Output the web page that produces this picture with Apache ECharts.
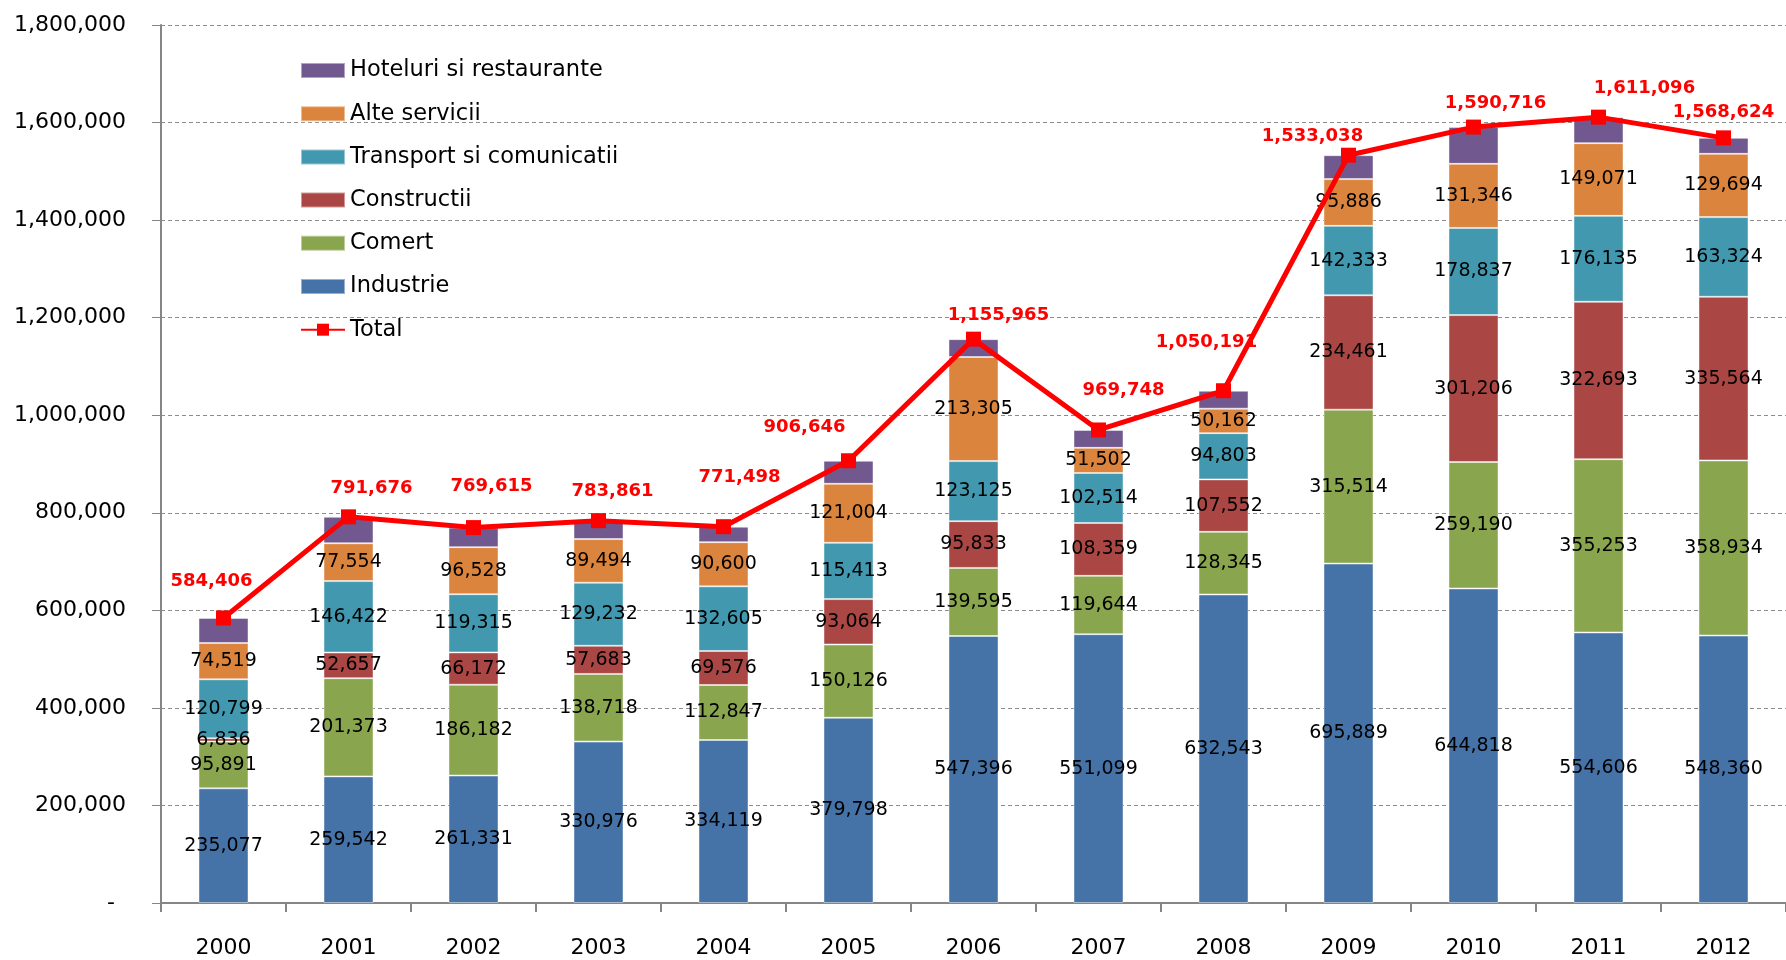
<!DOCTYPE html>
<html>
<head>
<meta charset="utf-8">
<title>Chart</title>
<script src="https://cdn.jsdelivr.net/npm/echarts@6/dist/echarts.min.js"></script>
<style>
  html, body { margin: 0; padding: 0; background: #fff; }
  #mychart { width: 1786px; height: 960px; }
</style>
</head>
<body>
<div id="mychart"></div>
<script>
  // date
  const years = ['2000', '2001', '2002', '2003', '2004', '2005', '2006', '2007', '2008', '2009', '2010', '2011', '2012']
  const industrie = [235077, 259542, 261331, 330976, 334119, 379798, 547396, 551099, 632543, 695889, 644818, 554606, 548360]
  const comert = [95891, 201373, 186182, 138718, 112847, 150126, 139595, 119644, 128345, 315514, 259190, 355253, 358934]
  const constructii = [6836, 52657, 66172, 57683, 69576, 93064, 95833, 108359, 107552, 234461, 301206, 322693, 335564]
  const transport = [120799, 146422, 119315, 129232, 132605, 115413, 123125, 102514, 94803, 142333, 178837, 176135, 163324]
  const alteServicii = [74519, 77554, 96528, 89494, 90600, 121004, 213305, 51502, 50162, 95886, 131346, 149071, 129694]
  // hoteluri: fara eticheta in grafic, estimat ca total minus celelalte
  const hoteluri = [51284, 54128, 40087, 37758, 31751, 47241, 36711, 36630, 36786, 48955, 75319, 53338, 32748]
  const total = [584406, 791676, 769615, 783861, 771498, 906646, 1155965, 969748, 1050191, 1533038, 1590716, 1611096, 1568624]
  const yTicks = [0, 200000, 400000, 600000, 800000, 1000000, 1200000, 1400000, 1600000, 1800000]

  // deplasarea etichetelor rosii fata de marker (ca in Excel)
  const totalLabelShift = [[-12, -37], [23, -29], [18, -41], [14, -29], [16, -49], [-44, -33], [25, -24],
    [25, -40], [-17, -48], [-36, -19], [22, -24], [46, -29], [0, -26]]

  const font = 'DejaVu Sans'
  const fmt = v => Number(v).toLocaleString('en-US')

  const mychartDom = document.getElementById('mychart')
  const myChart = echarts.init(mychartDom)

  // serie de bare stivuite
  function barSeries(name, data, color, showLabel) {
    return {
      name: name,
      type: 'bar',
      stack: 'total',
      barWidth: 50,
      data: data,
      itemStyle: {
        color: color,
        borderColor: 'rgba(255,255,255,0.45)',
        borderWidth: 1
      },
      label: {
        show: showLabel,
        position: 'inside',
        color: '#000',
        fontFamily: font,
        fontSize: 19,
        formatter: p => fmt(p.value)
      },
      emphasis: { disabled: true }
    }
  }

  const option = {
    animation: false,
    grid: {
      left: 161,
      right: -12,
      top: 25,
      bottom: 57
    },
    legend: {
      orient: 'vertical',
      left: 300,
      top: 59,
      padding: 0,
      itemWidth: 44,
      itemHeight: 15,
      itemGap: 20.2,
      textStyle: {
        fontFamily: font,
        fontSize: 22.5,
        lineHeight: 22,
        color: '#000'
      },
      data: [
        { name: 'Hoteluri si restaurante', icon: 'rect' },
        { name: 'Alte servicii', icon: 'rect' },
        { name: 'Transport si comunicatii', icon: 'rect' },
        { name: 'Constructii', icon: 'rect' },
        { name: 'Comert', icon: 'rect' },
        { name: 'Industrie', icon: 'rect' },
        { name: 'Total' }
      ]
    },
    xAxis: {
      type: 'category',
      data: years,
      axisLine: {
        lineStyle: { color: '#868686', width: 2 }
      },
      axisTick: {
        show: true,
        length: 9,
        lineStyle: { color: '#868686', width: 2 }
      },
      axisLabel: {
        margin: 34,
        color: '#000',
        fontFamily: font,
        fontSize: 22
      }
    },
    yAxis: {
      type: 'value',
      min: yTicks[0],
      max: yTicks[yTicks.length - 1],
      interval: yTicks[1] - yTicks[0],
      axisLine: {
        show: true,
        lineStyle: { color: '#868686', width: 2 }
      },
      axisTick: {
        show: true,
        length: 9,
        lineStyle: { color: '#868686' }
      },
      splitLine: {
        lineStyle: { color: '#8c8c8c', type: [4, 3], width: 1 }
      },
      axisLabel: {
        margin: 35,
        color: '#000',
        fontFamily: font,
        fontSize: 22,
        formatter: v => v === 0 ? '{dash|-}' : fmt(v),
        rich: {
          dash: { fontFamily: font, fontSize: 22, color: '#000', padding: [0, 11, 0, 0] }
        }
      }
    },
    series: [
      barSeries('Industrie', industrie, '#4572A7', true),
      barSeries('Comert', comert, '#89A54E', true),
      barSeries('Constructii', constructii, '#AA4643', true),
      barSeries('Transport si comunicatii', transport, '#4198AF', true),
      barSeries('Alte servicii', alteServicii, '#DB843D', true),
      barSeries('Hoteluri si restaurante', hoteluri, '#71588F', false),
      {
        name: 'Total',
        type: 'line',
        z: 5,
        symbol: 'rect',
        symbolSize: 15,
        itemStyle: { color: '#ff0000' },
        lineStyle: { color: '#ff0000', width: 5 },
        data: total.map((v, i) => ({
          value: v,
          label: { offset: totalLabelShift[i] }
        })),
        label: {
          show: true,
          position: 'inside',
          color: '#ff0000',
          fontFamily: font,
          fontWeight: 'bold',
          fontSize: 18,
          formatter: p => fmt(p.value)
        },
        emphasis: { disabled: true }
      }
    ]
  }

  myChart.setOption(option)
</script>
</body>
</html>
